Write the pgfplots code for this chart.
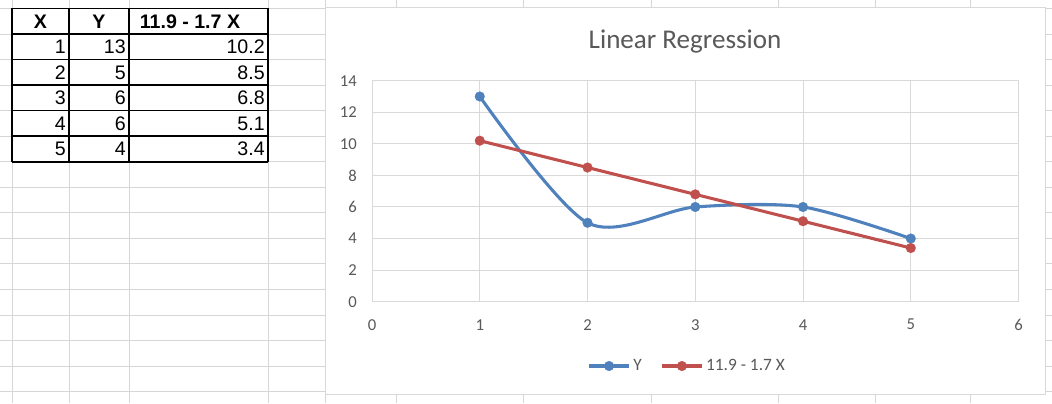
\documentclass[border=0pt]{standalone}
\usepackage{pgfplots}
\pgfplotsset{compat=1.18}
\usepackage{pgfplotstable}
\usepackage{fontspec}
\setmainfont{Liberation Sans}
\newfontfamily\calibri{Carlito}
\definecolor{gridgray}{RGB}{217,217,217}
\definecolor{cellgray}{RGB}{214,214,214}
\definecolor{txtgray}{RGB}{89,89,89}
\definecolor{xlblue}{RGB}{79,129,189}
\definecolor{xlred}{RGB}{192,80,77}

\pgfplotstableread{
x y
1 13
2 5
3 6
4 6
5 4
}\obs
\pgfplotstableread{
x y
1 10.2
2 8.5
3 6.8
4 5.1
5 3.4
}\fit

\begin{document}
\begin{tikzpicture}[x=0.75pt,y=0.75pt]
\path[use as bounding box] (0,0) rectangle (1052,403);
% spreadsheet grid
\foreach \r in {0,...,15} {
  \draw[cellgray, line width=0.75pt] (0,{403-(8.5+25.55*\r)}) -- (1052,{403-(8.5+25.55*\r)});
}
\foreach \c in {12,69,129,268,325.7,396.6,523.8,651.4,778.6,875,970.5} {
  \draw[cellgray, line width=0.75pt] (\c,0) -- (\c,403);
}
% table
\foreach \r in {8.5,34,59.6,85.1,110.7,136.2,161.8} {
  \draw[black, line width=1.1pt] (12,{403-\r}) -- (268,{403-\r});
}
\foreach \c in {12,69,129,268} {
  \draw[black, line width=1.1pt] (\c,{403-8.5}) -- (\c,{403-161.8});
}
\begin{scope}[every node/.style={font=\fontsize{14.7}{17}\selectfont, inner sep=0pt}]
\node[font=\bfseries\fontsize{14.7}{17}\selectfont] at (40.5,{403-21.3}) {X};
\node[font=\bfseries\fontsize{14.7}{17}\selectfont] at (99,{403-21.3}) {Y};
\node[font=\bfseries\fontsize{14.7}{17}\selectfont] at (190,{403-21.3}) {11.9 - 1.7 X};
\foreach \yy/\a/\b/\cc in {46.8/1/13/10.2, 72.4/2/5/8.5, 97.9/3/6/6.8, 123.5/4/6/5.1, 149/5/4/3.4} {
  \node[anchor=east] at (66,{403-\yy}) {\a};
  \node[anchor=east] at (126,{403-\yy}) {\b};
  \node[anchor=east] at (265,{403-\yy}) {\cc};
}
\end{scope}
% chart area
\draw[gridgray, fill=white, line width=0.75pt] (325.7,{403-7.5}) rectangle (1045.7,{403-395});
\node[font=\calibri\fontsize{20.3}{24}\selectfont, text=txtgray] at (685,{403-42}) {Linear Regression};

\begin{axis}[
  at={(279pt,75.975pt)}, anchor=origin,
  scale only axis, width=484.9pt, height=165.75pt,
  xmin=0, xmax=6, ymin=0, ymax=14,
  xtick={0,1,2,3,4,5,6}, ytick={0,2,4,6,8,10,12,14},
  grid=major, major grid style={gridgray, line width=0.75pt},
  axis line style={gridgray, line width=0.75pt},
  tick style={draw=none},
  /pgf/number format/assume math mode=true,
  ticklabel style={font=\calibri\fontsize{12.5}{14}\selectfont, text=txtgray, inner sep=0pt},
  yticklabel shift=11.25pt,
  xticklabel shift=13pt,
  legend style={draw=none, fill=none, at={(0.488,-0.291)}, anchor=center,
    legend columns=2, font=\calibri\fontsize{13}{15}\selectfont, text=txtgray,
    /tikz/every even column/.append style={column sep=12pt}},
  legend image code/.code={\draw[mark repeat=2,mark phase=2] plot coordinates {(0pt,0pt) (15pt,0pt) (30pt,0pt)};},
]
\addplot[xlblue, line width=2.3pt, smooth, tension=0.5, mark=*, mark size=3.7pt,
  mark options={solid, fill=xlblue, draw=xlblue, line width=0.1pt}] table {\obs};
\addlegendentry{Y}
\addplot[xlred, line width=2.3pt, mark=*, mark size=3.7pt,
  mark options={solid, fill=xlred, draw=xlred, line width=0.1pt}] table {\fit};
\addlegendentry{11.9 - 1.7 X}
\end{axis}
\end{tikzpicture}
\end{document}
